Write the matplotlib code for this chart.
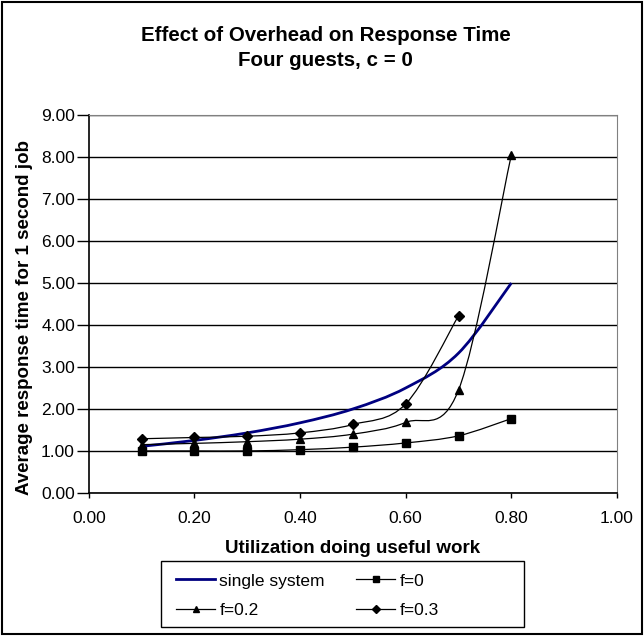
import numpy as np
import matplotlib.pyplot as plt
from matplotlib.path import Path
from matplotlib.patches import PathPatch
from matplotlib.lines import Line2D

plt.rcParams['font.family'] = ['Liberation Sans', 'DejaVu Sans']

# data
util = [0.1, 0.2, 0.3, 0.4, 0.5, 0.6, 0.7, 0.8]
single = [1.11, 1.25, 1.43, 1.67, 2.00, 2.50, 3.33, 5.00]
f0 = [1.00, 1.00, 1.00, 1.03, 1.09, 1.19, 1.36, 1.77]
f02 = [1.15, 1.18, 1.22, 1.28, 1.40, 1.68, 2.45, 8.05]
util3 = [0.1, 0.2, 0.3, 0.4, 0.5, 0.6, 0.7]
f03 = [1.29, 1.32, 1.35, 1.43, 1.63, 2.12, 4.22]


# smoothed line like excel (bezier through the points)
def smooth_path(x, y):
    p = np.column_stack([x, y])
    n = len(p)
    verts = [p[0]]
    codes = [Path.MOVETO]
    for i in range(n - 1):
        p0 = p[i - 1] if i > 0 else p[i]
        p1 = p[i]
        p2 = p[i + 1]
        p3 = p[i + 2] if i + 2 < n else p[i + 1]
        c1 = p1 + (p2 - p0) / 6.0
        c2 = p2 - (p3 - p1) / 6.0
        verts += [c1, c2, p2]
        codes += [Path.CURVE4] * 3
    return Path(verts, codes)


fig = plt.figure(figsize=(6.44, 6.36), dpi=100)
ax = fig.add_axes([0.138, 0.225, 0.82, 0.594])

series = [
    (util, single, '#000080', 2.0, None, 'single system'),
    (util, f0, 'black', 0.9, 's', 'f=0'),
    (util, f02, 'black', 0.9, '^', 'f=0.2'),
    (util3, f03, 'black', 0.9, 'D', 'f=0.3'),
]
handles = {}
for x, y, col, lw, mk, lab in series:
    ax.add_patch(PathPatch(smooth_path(x, y), facecolor='none', edgecolor=col,
                           lw=lw, zorder=3))
    ms = 5 if mk == 'D' else 6
    if mk:
        ax.plot(x, y, linestyle='none', marker=mk, color='black', ms=ms, zorder=4)
    handles[lab] = Line2D([], [], color=col, lw=lw, marker=mk, ms=ms - 1, label=lab)

ax.set_xlim(0, 1)
ax.set_ylim(0, 9)
ax.set_xticks(np.arange(0, 1.01, 0.2))
ax.set_yticks(np.arange(0, 9.01, 1))
ax.set_xticklabels(['%.2f' % v for v in np.arange(0, 1.01, 0.2)])
ax.set_yticklabels(['%.2f' % v for v in np.arange(0, 9.01, 1)])
ax.tick_params(labelsize=12.5, direction='out', width=1)
ax.tick_params(axis='x', length=3.8, pad=9)
ax.tick_params(axis='y', length=8.5, pad=1.5)
ax.yaxis.grid(True, color='black', lw=1)
ax.set_axisbelow(True)
for s in ['top', 'right']:
    ax.spines[s].set_color('#808080')
ax.spines['left'].set_linewidth(1.2)
ax.spines['bottom'].set_linewidth(1.2)

ax.set_xlabel('Utilization doing useful work', fontsize=13.5, fontweight='bold', labelpad=10)
ax.set_ylabel('Average response time for 1 second job', fontsize=13.5, fontweight='bold',
              labelpad=6)
ax.yaxis.label.set_y(0.464)
fig.text(0.506, 0.925, 'Effect of Overhead on Response Time\nFour guests, c = 0',
         ha='center', va='center', fontsize=14.8, fontweight='bold', linespacing=1.4)

order = ['single system', 'f=0.2', 'f=0', 'f=0.3']
leg = fig.legend(handles=[handles[k] for k in order], loc='center left',
                 bbox_to_anchor=(176 / 644, 0.0637), ncol=2,
                 fontsize=12.5, frameon=False, borderpad=0, borderaxespad=0,
                 handlelength=2.25, handletextpad=0.25, columnspacing=1.8,
                 labelspacing=0.8)
fig.patches.append(plt.Rectangle((0.25, 0.0142), 0.5637, 0.1038, transform=fig.transFigure,
                                 fill=False, edgecolor='black', lw=1.0))

fig.patches.append(plt.Rectangle((0.003, 0.003), 0.994, 0.994, transform=fig.transFigure,
                                 fill=False, edgecolor='black', lw=1.5))

plt.savefig('out.png', dpi=100)
